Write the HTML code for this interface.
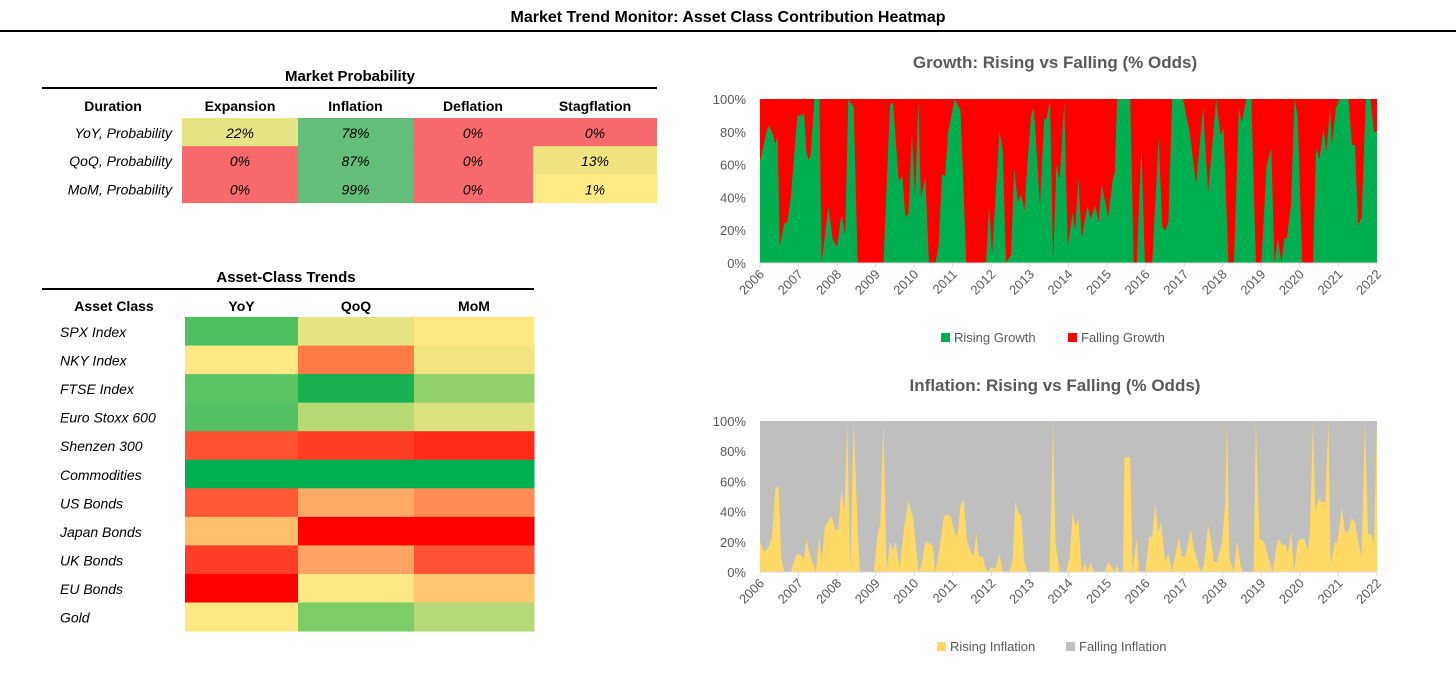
<!DOCTYPE html>
<html><head><meta charset="utf-8"><style>
body{margin:0;background:#fff;width:1456px;height:689px;overflow:hidden;font-family:"Liberation Sans",sans-serif;}
svg text{font-family:"Liberation Sans",sans-serif;}
</style></head><body>
<svg id="root" width="1456" height="689" xmlns="http://www.w3.org/2000/svg">
<text x="728" y="22" text-anchor="middle" font-size="16" font-weight="bold" fill="#000">Market Trend Monitor: Asset Class Contribution Heatmap</text>
<line x1="0" y1="31" x2="1456" y2="31" stroke="#000" stroke-width="2"/>
<g id="prob"></g>
<g id="assets"></g>
<g id="growth"></g>
<g id="infl"></g>
</svg>
<script>
// ---- Market probability data ----
const probCols = ["Expansion","Inflation","Deflation","Stagflation"];
const probRows = ["YoY, Probability","QoQ, Probability","MoM, Probability"];
const probValues = [[22,78,0,0],[0,87,0,13],[0,99,0,1]];
const probColors = [["#e5e484","#63be7b","#f8696b","#f8696b"],["#f8696b","#63be7b","#f8696b","#f0e482"],["#f8696b","#63be7b","#f8696b","#ffeb84"]];
// ---- Asset class trend data ----
const assetRows = ["SPX Index","NKY Index","FTSE Index","Euro Stoxx 600","Shenzen 300","Commodities","US Bonds","Japan Bonds","UK Bonds","EU Bonds","Gold"];
const assetCols = ["YoY","QoQ","MoM"];
const assetColors = [
["#4fc060","#e5e484","#fee87f"],["#fee883","#ff7a47","#f0e580"],["#5ac463","#19b050","#92d06a"],
["#54c262","#b7d975","#dce17f"],["#ff5233","#ff3d25","#ff2a1a"],["#00b050","#00b050","#00b050"],
["#ff5836","#ffaa66","#ff8b55"],["#ffc06e","#ff0000","#ff0000"],["#ff3d28","#ffa464","#ff5236"],
["#ff0000","#fee883","#ffc571"],["#fee883","#7ccd66","#b4d976"]];
// ---- Growth series ----
const growthDates = [2006.00,2006.17,2006.23,2006.34,2006.40,2006.46,2006.51,2006.63,2006.71,2006.80,2006.97,2007.09,2007.14,2007.20,2007.26,2007.31,2007.41,2007.54,2007.60,2007.77,2007.89,2008.00,2008.11,2008.21,2008.29,2008.43,2008.53,2009.20,2009.37,2009.45,2009.60,2009.69,2009.77,2009.85,2009.94,2010.02,2010.11,2010.17,2010.29,2010.38,2010.55,2010.63,2010.72,2010.80,2010.88,2011.05,2011.20,2011.35,2011.86,2011.94,2012.02,2012.21,2012.29,2012.38,2012.51,2012.59,2012.69,2012.77,2012.86,2012.94,2013.03,2013.10,2013.26,2013.37,2013.43,2013.52,2013.60,2013.69,2013.77,2013.89,2013.98,2014.11,2014.17,2014.26,2014.34,2014.49,2014.57,2014.69,2014.78,2014.86,2015.03,2015.14,2015.20,2015.26,2015.60,2015.69,2015.77,2015.89,2015.98,2016.17,2016.34,2016.43,2016.51,2016.59,2016.69,2016.97,2017.14,2017.31,2017.49,2017.62,2017.83,2017.94,2018.02,2018.15,2018.29,2018.42,2018.49,2018.61,2018.74,2018.86,2019.00,2019.14,2019.26,2019.34,2019.43,2019.52,2019.60,2019.66,2019.77,2019.86,2019.94,2020.06,2020.34,2020.42,2020.51,2020.61,2020.69,2020.78,2020.83,2020.94,2021.03,2021.26,2021.35,2021.43,2021.51,2021.60,2021.71,2021.83,2021.92,2022.00];
const growthRising = [62,80,84,78,72,78,10,24,25,40,90,90,92,68,63,65,100,100,0,34,14,10,30,17,100,95,0,0,96,98,50,53,28,30,80,40,99,40,52,0,0,10,54,53,80,100,93,0,0,35,5,80,70,0,5,58,37,42,32,62,90,95,35,88,88,100,0,60,50,98,10,31,20,52,15,35,27,35,25,48,28,50,55,100,100,0,0,72,0,0,77,22,20,25,100,100,80,48,95,43,100,78,82,0,0,95,85,100,100,0,0,60,70,0,15,0,15,15,35,100,90,0,0,70,63,82,68,95,72,95,100,100,72,72,23,28,100,100,80,80];
// ---- Inflation series ----
const inflDates = [2006.00,2006.11,2006.23,2006.31,2006.40,2006.48,2006.55,2006.63,2006.80,2006.95,2007.06,2007.14,2007.20,2007.31,2007.45,2007.54,2007.60,2007.68,2007.86,2007.95,2008.03,2008.11,2008.19,2008.26,2008.34,2008.43,2008.53,2008.59,2008.95,2009.05,2009.12,2009.20,2009.28,2009.37,2009.45,2009.52,2009.62,2009.74,2009.85,2009.97,2010.11,2010.19,2010.29,2010.40,2010.48,2010.54,2010.63,2010.77,2010.86,2010.94,2011.06,2011.12,2011.20,2011.28,2011.37,2011.49,2011.54,2011.61,2011.68,2011.77,2011.89,2012.00,2012.11,2012.21,2012.29,2012.46,2012.55,2012.62,2012.69,2012.77,2012.86,2012.94,2013.51,2013.60,2013.66,2013.77,2013.94,2014.03,2014.11,2014.19,2014.26,2014.34,2014.43,2014.49,2014.57,2014.66,2014.95,2015.03,2015.14,2015.20,2015.26,2015.31,2015.41,2015.45,2015.60,2015.66,2015.77,2015.83,2016.00,2016.09,2016.17,2016.25,2016.32,2016.40,2016.51,2016.59,2016.69,2016.86,2016.94,2017.03,2017.17,2017.26,2017.43,2017.51,2017.62,2017.69,2017.77,2017.85,2017.98,2018.06,2018.11,2018.17,2018.29,2018.37,2018.46,2018.51,2018.80,2018.86,2018.95,2019.09,2019.20,2019.29,2019.43,2019.54,2019.63,2019.69,2019.77,2019.85,2019.94,2020.02,2020.11,2020.21,2020.26,2020.34,2020.40,2020.49,2020.57,2020.66,2020.74,2020.80,2020.91,2020.97,2021.09,2021.17,2021.26,2021.34,2021.43,2021.51,2021.60,2021.69,2021.77,2021.85,2021.92,2022.00];
const inflRising = [20,13,17,23,55,57,10,0,0,12,11,8,22,10,0,24,6,30,37,28,28,55,40,100,0,100,30,0,0,25,32,100,0,20,14,20,2,30,47,36,0,5,20,19,17,0,11,37,38,37,25,24,44,48,20,12,10,26,10,10,0,3,2,12,0,0,7,47,40,37,6,0,0,100,20,0,0,10,40,30,35,0,6,0,6,0,0,7,2,0,5,0,0,76,76,0,23,0,0,24,23,46,26,33,6,12,0,23,10,10,28,15,0,5,31,22,7,6,20,45,100,10,0,21,5,0,0,100,22,19,8,0,22,18,18,12,27,0,20,22,22,14,28,100,40,49,46,46,100,5,20,19,43,26,27,36,33,20,10,100,25,25,18,100];
const yearTicks = [2006,2007,2008,2009,2010,2011,2012,2013,2014,2015,2016,2017,2018,2019,2020,2021,2022];
const pctTicks = [0,20,40,60,80,100];

const NS="http://www.w3.org/2000/svg";
function mk(parent,tag,attrs,text){const e=document.createElementNS(NS,tag);for(const k in attrs)e.setAttribute(k,attrs[k]);if(text!==undefined)e.textContent=text;parent.appendChild(e);return e;}

// Probability table
(function(){
  const g=document.getElementById('prob');
  const colX=[182,298,413,533,657], top=118, rh=28.2;
  let t=mk(g,'text',{x:350,y:81,'text-anchor':'middle','font-size':15,'font-weight':'bold'},'Market Probability');
  
  let l=mk(g,'line',{x1:42,y1:88,x2:657,y2:88,stroke:'#000','stroke-width':2});
  
  t=mk(g,'text',{x:113,y:111,'text-anchor':'middle','font-size':14,'font-weight':'bold'},'Duration');
  
  probCols.forEach((c,j)=>{
    const h=mk(g,'text',{x:(colX[j]+colX[j+1])/2,y:111,'text-anchor':'middle','font-size':14,'font-weight':'bold'},c);
    
  });
  probRows.forEach((r,i)=>{
    const y=top+i*rh;
    const lab=mk(g,'text',{x:172,y:y+20,'text-anchor':'end','font-size':14,'font-style':'italic'},r);
    
    probValues[i].forEach((v,j)=>{
      const rc=mk(g,'rect',{x:colX[j],y:y,width:colX[j+1]-colX[j],height:rh+0.5,fill:probColors[i][j]});
      
      const tx=mk(g,'text',{x:(colX[j]+colX[j+1])/2,y:y+20,'text-anchor':'middle','font-size':14,'font-style':'italic'},v+'%');
      
    });
  });
})();

// Asset table
(function(){
  const g=document.getElementById('assets');
  const colX=[185,298,414,534], top=317, rh=28.55;
  let t=mk(g,'text',{x:286,y:282,'text-anchor':'middle','font-size':15,'font-weight':'bold'},'Asset-Class Trends');
  
  let l=mk(g,'line',{x1:42,y1:289,x2:534,y2:289,stroke:'#000','stroke-width':2});
  
  t=mk(g,'text',{x:114,y:311,'text-anchor':'middle','font-size':14,'font-weight':'bold'},'Asset Class');
  
  assetCols.forEach((c,j)=>{
    const h=mk(g,'text',{x:(colX[j]+colX[j+1])/2,y:311,'text-anchor':'middle','font-size':14,'font-weight':'bold'},c);
    
  });
  assetRows.forEach((r,i)=>{
    const y=top+i*rh;
    const lab=mk(g,'text',{x:60,y:y+20,'font-size':14,'font-style':'italic'},r);
    
    assetColors[i].forEach((c,j)=>{
      const rc=mk(g,'rect',{x:colX[j],y:y,width:colX[j+1]-colX[j]+0.5,height:rh+0.5,fill:c});
      
    });
  });
})();

function areaChart(gid,cfg){
  const g=document.getElementById(gid);
  const x0=760,x1=1377,y0=cfg.top,y1=cfg.bottom;
  const xs=d=>x0+(d-2006)/16*(x1-x0);
  const ys=v=>y1-v/100*(y1-y0);
  let t=mk(g,'text',{x:1055,y:cfg.titleY,'text-anchor':'middle','font-size':17,'font-weight':'bold',fill:'#595959'},cfg.title);
  
  const bg=mk(g,'rect',{x:x0,y:y0,width:x1-x0,height:y1-y0,fill:cfg.topColor});
  
  let d='M'+xs(cfg.dates[0])+','+y1;
  cfg.dates.forEach((dt,i)=>{d+=' L'+xs(dt).toFixed(1)+','+ys(cfg.values[i]).toFixed(1);});
  d+=' L'+xs(cfg.dates[cfg.dates.length-1])+','+y1+' Z';
  const p=mk(g,'path',{d:d,fill:cfg.botColor});
  
  const ax=mk(g,'line',{x1:x0,y1:y1,x2:x1,y2:y1,stroke:'#d9d9d9','stroke-width':1});
  
  pctTicks.forEach(v=>{
    const tl=mk(g,'text',{x:746,y:ys(v)+5,'text-anchor':'end','font-size':13,fill:'#595959'},v+'%');
    
  });
  yearTicks.forEach(yr=>{
    const x=xs(yr);
    const tk=mk(g,'line',{x1:x,y1:y1,x2:x,y2:y1+4,stroke:'#d9d9d9'});
    
    const tl=mk(g,'text',{x:x+5,y:y1+12,'text-anchor':'end','font-size':13,fill:'#595959',transform:'rotate(-45 '+(x+5)+' '+(y1+12)+')'},String(yr));
    
  });
  const ly=cfg.legendY;
  let r=mk(g,'rect',{x:cfg.legX,y:ly-9,width:9,height:9,fill:cfg.botColor});
  
  t=mk(g,'text',{x:cfg.legX+13,y:ly,'font-size':13,fill:'#595959'},cfg.botLabel);
  
  r=mk(g,'rect',{x:cfg.legX2,y:ly-9,width:9,height:9,fill:cfg.topColor});
  
  t=mk(g,'text',{x:cfg.legX2+13,y:ly,'font-size':13,fill:'#595959'},cfg.topLabel);
  
}
areaChart('growth',{top:99,bottom:263,titleY:68,title:'Growth: Rising vs Falling (% Odds)',dates:growthDates,values:growthRising,topColor:'#ff0000',botColor:'#00b050',botLabel:'Rising Growth',topLabel:'Falling Growth',legendY:342,legX:941,legX2:1068});
areaChart('infl',{top:421,bottom:572,titleY:391,title:'Inflation: Rising vs Falling  (% Odds)',dates:inflDates,values:inflRising,topColor:'#bfbfbf',botColor:'#ffd966',botLabel:'Rising Inflation',topLabel:'Falling Inflation',legendY:651,legX:937,legX2:1066});
</script>
</body></html>
